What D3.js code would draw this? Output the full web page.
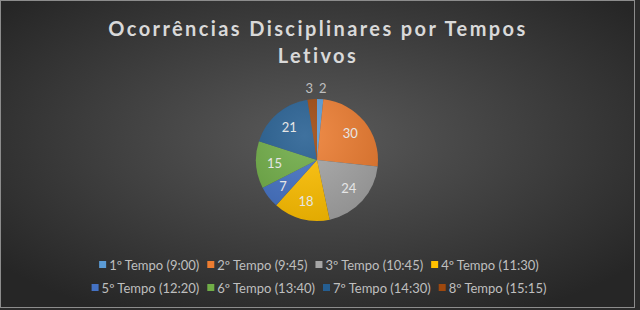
<!DOCTYPE html>
<html>
<head>
<meta charset="utf-8">
<script src="https://cdn.jsdelivr.net/npm/d3@7"></script>
<style>
  body { margin: 0; background: #2b2b2b; }
  svg { display: block; }
</style>
</head>
<body>
<svg id="chart"></svg>
<script>
var width = 640,
    height = 310;

// data
var categories = ["1º Tempo (9:00)", "2º Tempo (9:45)", "3º Tempo (10:45)", "4º Tempo (11:30)",
                  "5º Tempo (12:20)", "6º Tempo (13:40)", "7º Tempo (14:30)", "8º Tempo (15:15)"];
var values = [2, 30, 24, 18, 7, 15, 21, 3];
var titleLines = ["Ocorrências Disciplinares por Tempos", "Letivos"];

var colors = ["#5b9bd5", "#ed7d31", "#a5a5a5", "#ffc000", "#4472c4", "#70ad47", "#255e91", "#9e480e"];

var svg = d3.select("#chart")
    .attr("width", width)
    .attr("height", height);

var defs = svg.append("defs");

// dark radial background like the Excel style
var bg = defs.append("radialGradient").attr("id", "bg")
    .attr("cx", "50%").attr("cy", "45%").attr("r", "65%");
bg.append("stop").attr("offset", "0%").attr("stop-color", "#5a5a5a");
bg.append("stop").attr("offset", "100%").attr("stop-color", "#262626");

var shine = defs.append("radialGradient").attr("id", "shine")
    .attr("cx", "40%").attr("cy", "30%").attr("r", "75%");
shine.append("stop").attr("offset", "0%").attr("stop-color", "#fff").attr("stop-opacity", 0.12);
shine.append("stop").attr("offset", "100%").attr("stop-color", "#000").attr("stop-opacity", 0.12);

svg.append("rect")
    .attr("x", 0.5).attr("y", 0.5)
    .attr("width", width - 6).attr("height", height - 3)
    .attr("fill", "url(#bg)")
    .attr("stroke", "#8c8c8c")
    .attr("stroke-width", 1);

// title
svg.append("g").selectAll("text")
  .data(titleLines)
  .join("text")
    .attr("x", 318)
    .attr("y", function(d, i) { return 36 + i * 27; })
    .attr("text-anchor", "middle")
    .style("font-family", "Lato, 'Open Sans', sans-serif")
    .style("font-weight", "bold")
    .style("font-size", "20px")
    .style("letter-spacing", "2.4px")
    .style("fill", "#d9d9d9")
    .text(function(d) { return d; });

// pie
var cx = 317, cy = 160, radius = 61;

var pie = d3.pie().sort(null).value(function(d) { return d; });
var arcs = pie(values);

var arc = d3.arc().innerRadius(0).outerRadius(radius);
var labelArc = d3.arc().innerRadius(radius * 0.7).outerRadius(radius * 0.7);
var outerArc = d3.arc().innerRadius(radius + 11).outerRadius(radius + 11);

var g = svg.append("g")
    .attr("transform", "translate(" + cx + "," + cy + ")");

g.selectAll("path.slice")
  .data(arcs)
  .join("path")
    .attr("class", "slice")
    .attr("d", arc)
    .attr("fill", function(d, i) { return colors[i]; });

g.append("circle")
    .attr("r", radius)
    .attr("fill", "url(#shine)")
    .style("pointer-events", "none");

// value labels, the two smallest ones sit outside
g.selectAll("text.lbl")
  .data(arcs)
  .join("text")
    .attr("class", "lbl")
    .attr("transform", function(d) {
      var p = labelArc.centroid(d);
      if (d.value < 5) {
        p = outerArc.centroid(d);
        p[0] += p[0] > 0 ? 2 : -2;
      }
      return "translate(" + p + ")";
    })
    .attr("dy", "0.35em")
    .attr("text-anchor", "middle")
    .style("font-family", "Lato, 'Open Sans', sans-serif")
    .style("font-size", "13px")
    .style("fill", function(d) { return d.value < 5 ? "#bfbfbf" : "#e6e6e6"; })
    .text(function(d) { return d.value; });

// legend in two centred rows
var rows = [categories.slice(0, 4), categories.slice(4)];
var legend = svg.append("g");

rows.forEach(function(row, r) {
  var y = 265 + r * 23;
  var items = legend.append("g").selectAll("g")
    .data(row)
    .join("g");
  items.append("rect")
    .attr("width", 7).attr("height", 7)
    .attr("y", y - 4)
    .attr("fill", function(d) { return colors[categories.indexOf(d)]; });
  items.append("text")
    .attr("x", 10)
    .attr("y", y)
    .attr("dy", "0.35em")
    .style("font-family", "Lato, 'Open Sans', sans-serif")
    .style("font-size", "13px")
    .style("fill", "#bfbfbf")
    .text(function(d) { return d; });

  var gap = 8;
  var widths = [];
  items.each(function() { widths.push(this.getBBox().width); });
  var total = d3.sum(widths) + gap * (widths.length - 1);
  var x = 319 - total / 2;
  items.attr("transform", function(d, i) {
    var t = "translate(" + x + ",0)";
    x += widths[i] + gap;
    return t;
  });
});
</script>
</body>
</html>
